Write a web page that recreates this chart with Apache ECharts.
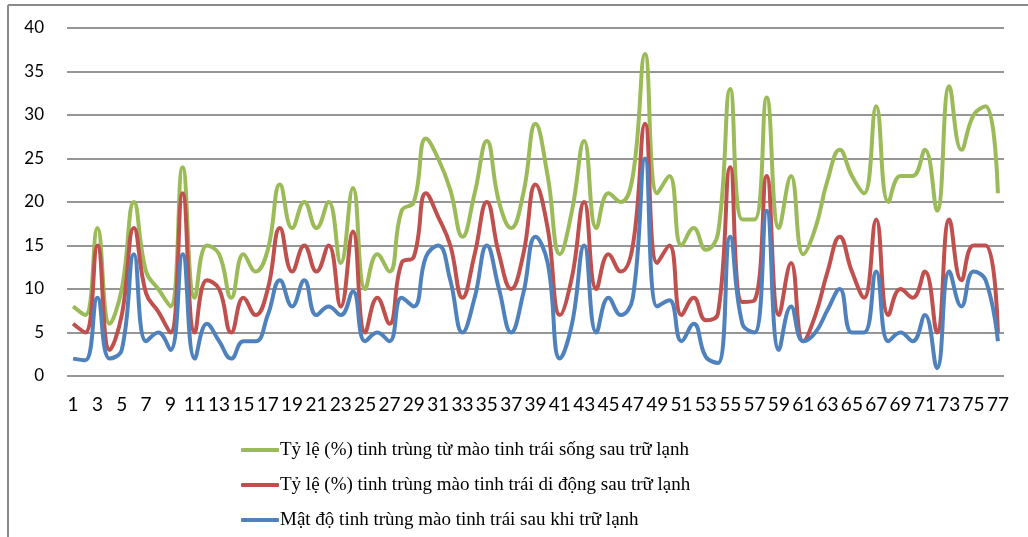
<!DOCTYPE html>
<html>
<head>
<meta charset="utf-8">
<script src="https://cdn.jsdelivr.net/npm/echarts@6/dist/echarts.min.js"></script>
<style>
  html, body { margin: 0; padding: 0; background: #fff; }
  #chart { width: 1028px; height: 537px; }
</style>
</head>
<body>
<div id="chart"></div>
<script>
// Sample numbers 1..77
const categories = Array.from({ length: 77 }, (_, i) => String(i + 1));

const seriesNames = [
  'Tỷ lệ (%) tinh trùng từ mào tinh trái sống sau trữ lạnh',
  'Tỷ lệ (%) tinh trùng mào tinh trái di động sau trữ lạnh',
  'Mật độ tinh trùng mào tinh trái sau khi trữ lạnh'
];

// Live sperm rate (%)
const liveRate = [
  8, 7, 17, 6, 10, 20, 12, 10, 8, 24,
  9, 15, 14, 9, 14, 12, 14.5, 22, 17, 20,
  17, 20, 13, 21.6, 10, 14, 12, 19, 20, 27.3,
  25, 21.4, 16, 21, 27, 20, 17, 21, 29, 23,
  14, 19, 27, 17, 21, 20, 23, 37, 21, 23,
  15, 17, 14.5, 16.4, 33, 18, 18, 32, 17, 23,
  14, 17, 22.5, 26, 23, 21, 31, 20, 23, 23,
  26, 19, 33.3, 26, 30, 31, 21
];

// Motile sperm rate (%)
const motileRate = [
  6, 5, 15, 3, 7, 17, 9.5, 7.4, 5, 21,
  5, 11, 10, 5, 9, 7, 10, 17, 12, 15,
  12, 15, 8, 16.6, 5, 9, 6, 13, 13.7, 21,
  18.3, 15, 9, 14, 20, 14, 10, 14, 22, 17,
  7, 11.4, 20, 10, 14, 12, 15, 29, 13, 15,
  7, 9, 6.4, 7.2, 24, 8.5, 8.7, 23, 7, 13,
  4, 7, 12, 16, 12, 9, 18, 7, 10, 9,
  12, 5, 18, 11, 15, 15, 5
];

// Sperm density
const density = [
  2, 1.8, 9, 2, 3, 14, 4, 5, 3, 14,
  2, 6, 4, 2, 4, 4, 7, 11, 8, 11,
  7, 8, 7, 9.7, 4, 5, 4, 9, 8, 13.7,
  15, 11, 5, 9, 15, 10, 5, 9.5, 16, 13,
  2, 6, 15, 5, 9, 7, 9, 25, 8, 8.7,
  4, 6, 2.2, 1.5, 16, 6, 5, 19, 3, 8,
  4, 5, 7.6, 10, 5, 5, 12, 4, 5, 4,
  7, 0.9, 12, 8, 12, 11, 4
];

const yTicks = { min: 0, max: 40, interval: 5 };
const colors = ['#9BBB59', '#C0504D', '#4F81BD'];

const chart = echarts.init(document.getElementById('chart'), null, { renderer: 'canvas' });

function lineSeries(name, data, color) {
  return {
    name: name,
    type: 'line',
    data: data,
    smooth: 0.45,
    symbol: 'none',
    lineStyle: { width: 4, color: color },
    itemStyle: { color: color },
    emphasis: { disabled: true }
  };
}

chart.setOption({
  animation: false,
  backgroundColor: '#ffffff',
  graphic: [
    { type: 'line', shape: { x1: 8, y1: 5, x2: 1028, y2: 5 }, style: { stroke: '#8a8a8a', lineWidth: 2 } },
    { type: 'line', shape: { x1: 8, y1: 5, x2: 8, y2: 537 }, style: { stroke: '#8a8a8a', lineWidth: 2 } }
  ],
  grid: { left: 67, right: 24, top: 28, bottom: 161, containLabel: false },
  legend: {
    orient: 'vertical',
    left: 236,
    top: 434,
    itemWidth: 38,
    itemHeight: 4,
    itemGap: 13,
    icon: 'roundRect',
    textStyle: { fontFamily: 'Liberation Serif', fontSize: 19, color: '#000', lineHeight: 22, padding: [0, 0, 0, -4] },
    data: seriesNames
  },
  xAxis: {
    type: 'category',
    data: categories,
    boundaryGap: true,
    axisLine: { show: false },
    axisTick: { show: false },
    axisLabel: { interval: 1, margin: 19, fontFamily: 'Lato', fontSize: 19, color: '#000' }
  },
  yAxis: {
    type: 'value',
    min: yTicks.min,
    max: yTicks.max,
    interval: yTicks.interval,
    axisLine: { show: false },
    axisTick: { show: false },
    axisLabel: { margin: 23, fontFamily: 'Lato', fontSize: 17, color: '#000' },
    splitLine: { show: true, lineStyle: { color: '#969696', width: 2 } }
  },
  series: [
    lineSeries(seriesNames[0], liveRate, colors[0]),
    lineSeries(seriesNames[1], motileRate, colors[1]),
    lineSeries(seriesNames[2], density, colors[2])
  ]
});
</script>
</body>
</html>
